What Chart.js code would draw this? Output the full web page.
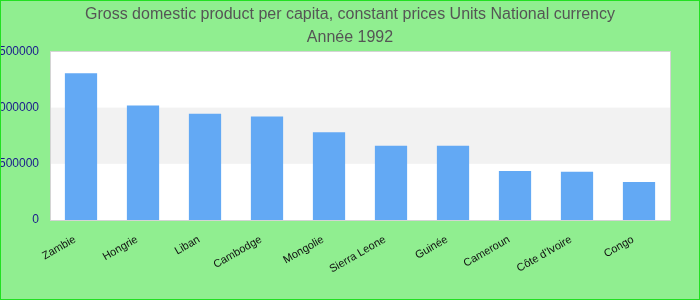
<!DOCTYPE html>
<html>
<head>
<meta charset="utf-8">
<script src="https://cdn.jsdelivr.net/npm/chart.js@4"></script>
<style>
html,body{margin:0;padding:0;background:#90ee90;}
#wrap{position:relative;width:700px;height:300px;box-sizing:border-box;border:1px solid #22e022;overflow:hidden;}
canvas{display:block;}
</style>
</head>
<body>
<div id="wrap"><canvas id="c" width="698" height="298"></canvas></div>
<script>
const titleLines = ['Gross domestic product per capita, constant prices Units National currency', 'Année 1992'];
const categories = ['Zambie', 'Hongrie', 'Liban', 'Cambodge', 'Mongolie', 'Sierra Leone', 'Guinée', 'Cameroun', "Côte d'Ivoire", 'Congo'];
const gdpValues = [1305000, 1018000, 946000, 920000, 780000, 661000, 660000, 437000, 429000, 339000];
const yTicks = [0, 500000, 1000000, 1500000];

function plotBounds(chart) {
  const bars = chart.getDatasetMeta(0).data;
  const n = bars.length;
  const step = (bars[n - 1].x - bars[0].x) / (n - 1);
  return {left: Math.round(bars[0].x - step / 2), right: Math.round(bars[n - 1].x + step / 2)};
}

const bandsPlugin = {
  id: 'bands',
  beforeDatasetsDraw(chart) {
    const {ctx, chartArea: a, scales: {y}} = chart;
    const {left, right} = plotBounds(chart);
    ctx.save();
    ctx.fillStyle = '#ffffff';
    ctx.fillRect(left, a.top, right - left, a.bottom - a.top);
    ctx.fillStyle = '#f2f2f2';
    for (let i = 1; i < yTicks.length - 1; i += 2) {
      const t = y.getPixelForValue(yTicks[i + 1]);
      const b = y.getPixelForValue(yTicks[i]);
      ctx.fillRect(left, t, right - left, b - t);
    }
    ctx.restore();
  },
  afterDraw(chart) {
    const {ctx, chartArea: a} = chart;
    const {left, right} = plotBounds(chart);
    ctx.save();
    ctx.fillStyle = '#90ee90';
    ctx.fillRect(right + 1, a.top - 1, chart.width - right - 1, a.bottom - a.top + 3);
    ctx.strokeStyle = '#d4d4d4';
    ctx.lineWidth = 1;
    ctx.strokeRect(left + 0.5, Math.round(a.top) + 0.5, right - left, Math.round(a.bottom - a.top));
    ctx.restore();
  }
};

new Chart(document.getElementById('c'), {
  type: 'bar',
  data: {
    labels: categories,
    datasets: [{
      data: gdpValues,
      backgroundColor: '#63a9f4',
      borderWidth: 0,
      barPercentage: 0.52,
      categoryPercentage: 1,
      yAxisID: 'y'
    }]
  },
  options: {
    responsive: false,
    animation: false,
    layout: {padding: 0},
    plugins: {
      legend: {display: false},
      tooltip: {enabled: false},
      title: {
        display: true,
        text: titleLines,
        color: '#555555',
        font: {family: 'Liberation Sans, Arial, sans-serif', size: 16, weight: 'normal', lineHeight: 1.45},
        padding: {top: 2, bottom: 2}
      }
    },
    scales: {
      x: {
        afterFit(scale) { scale.height = 79; },
        grid: {display: false, drawTicks: false},
        border: {display: false},
        ticks: {
          color: '#111111',
          font: {family: 'Liberation Sans, Arial, sans-serif', size: 11},
          minRotation: 30,
          maxRotation: 30,
          padding: 13,
          labelOffset: -6,
          autoSkip: false
        }
      },
      y: {
        min: 0,
        max: 1500000,
        afterFit(scale) { scale.width = 49; },
        afterBuildTicks(scale) { scale.ticks = yTicks.map(v => ({value: v})); },
        grid: {display: false, drawTicks: false},
        border: {display: false},
        ticks: {
          color: '#1a1a8c',
          font: {family: 'Liberation Sans, Arial, sans-serif', size: 12},
          padding: 11,
          callback: v => String(v)
        }
      },
      yRight: {
        position: 'right',
        min: 0,
        max: 1500000,
        afterFit(scale) { scale.width = 29; },
        grid: {display: false, drawTicks: false},
        border: {display: false},
        ticks: {display: false}
      }
    }
  },
  plugins: [bandsPlugin]
});
</script>
</body>
</html>
